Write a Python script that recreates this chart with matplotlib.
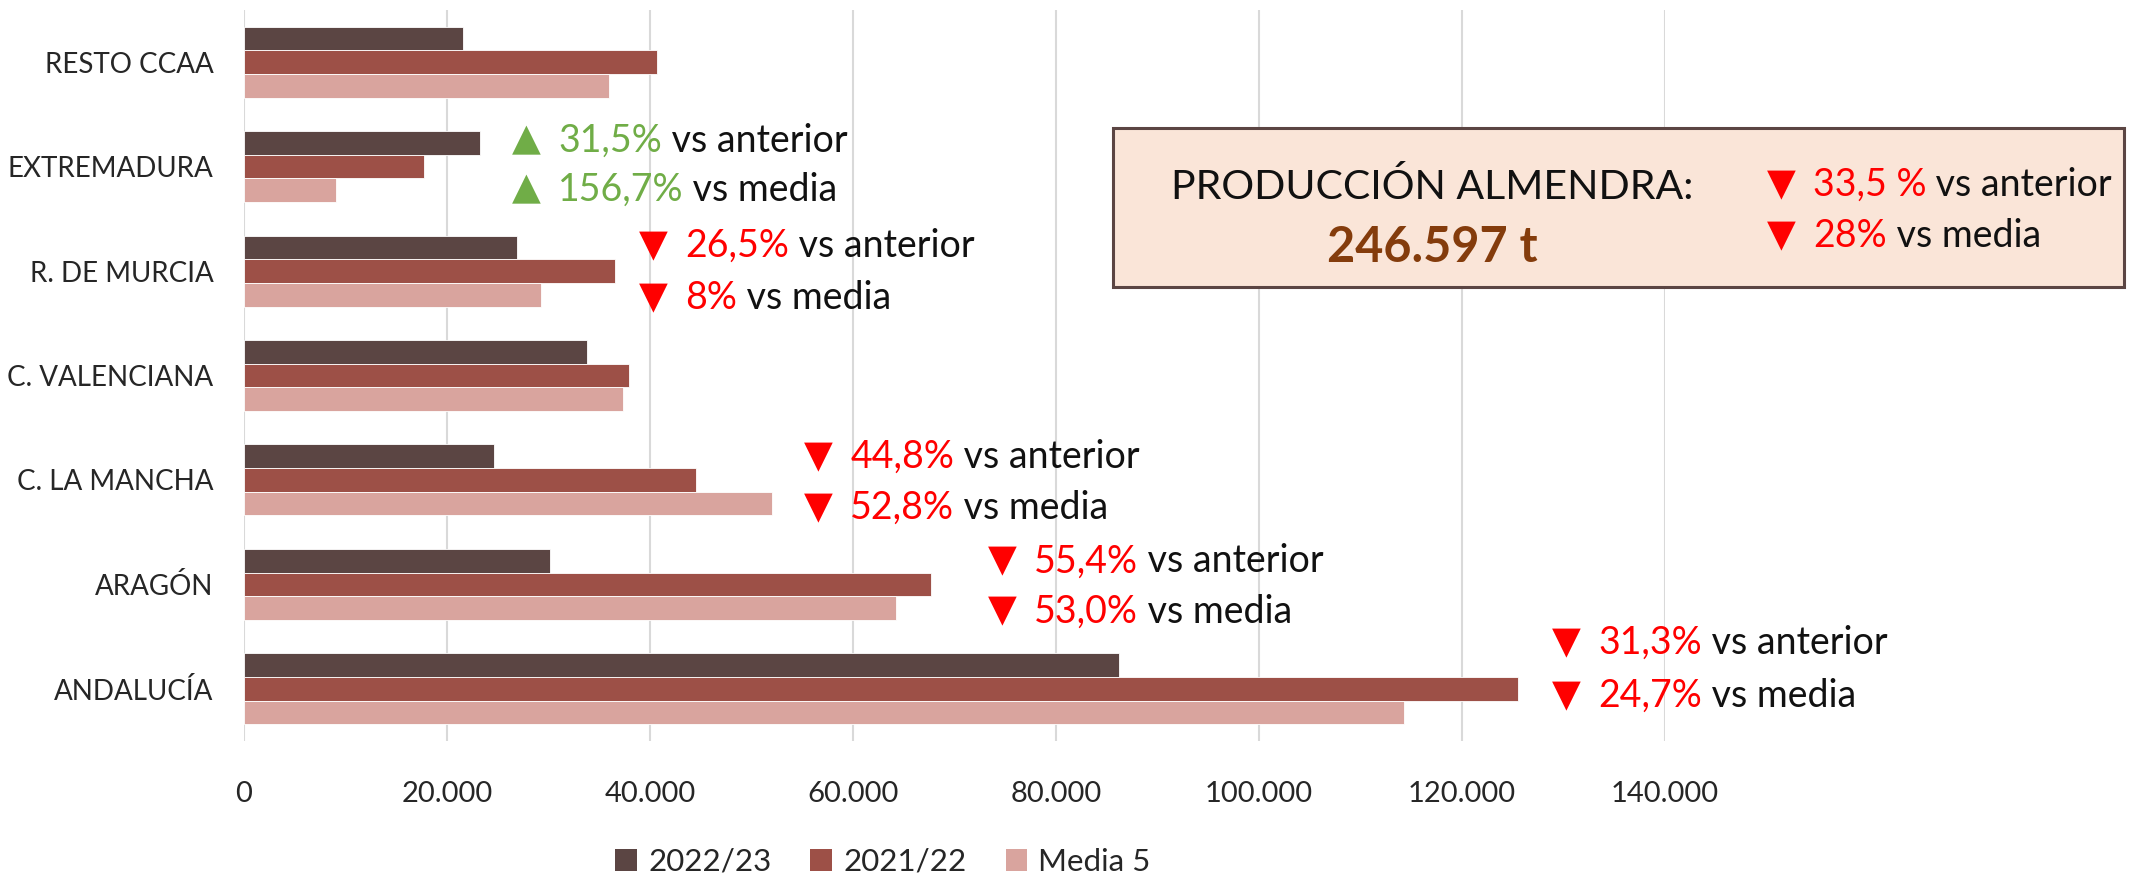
import matplotlib
matplotlib.use('Agg')
import matplotlib.pyplot as plt
import numpy as np
from matplotlib.patches import Rectangle, Patch
from matplotlib.text import Annotation

plt.rcParams['font.family'] = ['Lato', 'DejaVu Sans']

# ---------------- data ----------------
categories = ['ANDALUCÍA', 'ARAGÓN', 'C. LA MANCHA', 'C. VALENCIANA',
              'R. DE MURCIA', 'EXTREMADURA', 'RESTO CCAA']
s2223 = [86200, 30100, 24600, 33800, 26900, 23300, 21600]
s2122 = [125500, 67700, 44500, 37900, 36600, 17700, 40700]
media5 = [114300, 64200, 52000, 37300, 29300, 9050, 36000]
series_names = ['2022/23', '2021/22', 'Media 5']
xticks = [0, 20000, 40000, 60000, 80000, 100000, 120000, 140000]
xtick_labels = ['0', '20.000', '40.000', '60.000', '80.000', '100.000', '120.000', '140.000']

ann_region = ['EXTREMADURA', 'R. DE MURCIA', 'C. LA MANCHA', 'ARAGÓN', 'ANDALUCÍA']
ann_anterior = ['31,5%', '26,5%', '44,8%', '55,4%', '31,3%']
ann_media = ['156,7%', '8%', '52,8%', '53,0%', '24,7%']
ann_up = [True, False, False, False, False]
ann_x = [26400, 38900, 55200, 73300, 128900]
ann_dy1 = [0.25, 0.24, 0.22, 0.22, 0.44]
ann_dy2 = [-0.22, -0.26, -0.27, -0.26, -0.07]

total_title = 'PRODUCCIÓN ALMENDRA:'
total_value = '246.597 t'
total_anterior = '33,5 %'
total_media = '28%'

colors = ['#5B4543', '#9D5047', '#D9A49E']
GREEN = '#70AD47'
RED = '#FF0000'

W, H = 2151, 876
fig = plt.figure(figsize=(W / 100, H / 100), dpi=100)
ax_left, ax_right = 244 / W, 1665 / W
ax_top, ax_bot = 1 - 10 / H, 1 - 741 / H
ax = fig.add_axes([ax_left, ax_bot, ax_right - ax_left, ax_top - ax_bot])

y = np.arange(len(categories))
bh = 0.227
for k, (vals, c, name) in enumerate(zip([s2223, s2122, media5], colors, series_names)):
    ax.barh(y + (1 - k) * bh, vals, height=bh, color=c, label=name,
            edgecolor='white', linewidth=0.6, zorder=3)

ax.set_xlim(0, 140000)
ax.set_ylim(-0.5, len(categories) - 0.5)
ax.set_yticks(y)
ax.set_yticklabels(categories, fontsize=20, color='#262626')
ax.set_xticks(xticks)
ax.set_xticklabels(xtick_labels, fontsize=21, color='#262626')
ax.tick_params(axis='y', length=0, pad=22)
ax.tick_params(axis='x', length=0, pad=29)
ax.grid(axis='x', color='#D9D9D9', linewidth=1.5, zorder=0)
for s in ax.spines.values():
    s.set_visible(False)

fs_ann = 27
TRI_OFF = 46


def rich_line(x, yv, up, pct, rest, fs):
    tri = '▲' if up else '▼'
    col = GREEN if up else RED
    ax.text(x, yv, tri, transform=ax.transData, fontsize=fs, color=col,
            family=['DejaVu Sans'], va='center', ha='left', clip_on=False)
    t1 = ax.annotate(pct, xy=(x, yv), xycoords='data', xytext=(TRI_OFF, 0),
                     textcoords='offset pixels', fontsize=fs, color=col,
                     va='center', ha='left', annotation_clip=False)
    ax.annotate(' ' + rest, xy=(1, 0), xycoords=t1, va='bottom', ha='left',
                fontsize=fs, color='#111111', annotation_clip=False)


cat_index = {c: i for i, c in enumerate(categories)}
for reg, a, m, up, xx, d1, d2 in zip(ann_region, ann_anterior, ann_media, ann_up,
                                     ann_x, ann_dy1, ann_dy2):
    yi = cat_index[reg]
    rich_line(xx, yi + d1, up, a, 'vs anterior', fs_ann)
    rich_line(xx, yi + d2, up, m, 'vs media', fs_ann)

# summary box
bx0, bx1 = 1113 / W, 2124 / W
by0, by1 = 1 - 287 / H, 1 - 128 / H
fig.patches.append(Rectangle((bx0, by0), bx1 - bx0, by1 - by0, transform=fig.transFigure,
                             facecolor='#FAE5D8', edgecolor='#5B4543', linewidth=2.2, zorder=5))
fig.text(1432 / W, 1 - 187 / H, total_title, fontsize=29.5, color='#111111',
         ha='center', va='center', zorder=6)
fig.text(1432 / W, 1 - 247 / H, total_value, fontsize=35, fontweight='bold',
         color='#843C0C', ha='center', va='center', zorder=6)


def fig_rich(xp, yp, pct, rest):
    fig.text(xp, yp, '▼', fontsize=fs_ann, color=RED, family=['DejaVu Sans'],
             va='center', ha='left', zorder=6)
    t1 = fig.text(xp + TRI_OFF / W, yp, pct, fontsize=fs_ann, color=RED,
                  va='center', ha='left', zorder=6)
    a = Annotation(' ' + rest, xy=(1, 0), xycoords=t1, va='bottom', ha='left',
                   fontsize=fs_ann, color='#111111', annotation_clip=False)
    a.set_zorder(7)
    fig.add_artist(a)


fig_rich(1767 / W, 1 - 185 / H, total_anterior, 'vs anterior')
fig_rich(1767 / W, 1 - 236 / H, total_media, 'vs media')

# legend
handles = [Patch(facecolor=c, label=n) for c, n in zip(colors, series_names)]
fig.legend(handles=handles, loc='center', bbox_to_anchor=(0.4105, 1 - 862 / H), ncol=3,
           frameon=False, fontsize=22.5, handlelength=0.7, handleheight=0.7,
           handletextpad=0.35, columnspacing=1.25, labelcolor='#262626')

fig.savefig('out.png', dpi=100)
